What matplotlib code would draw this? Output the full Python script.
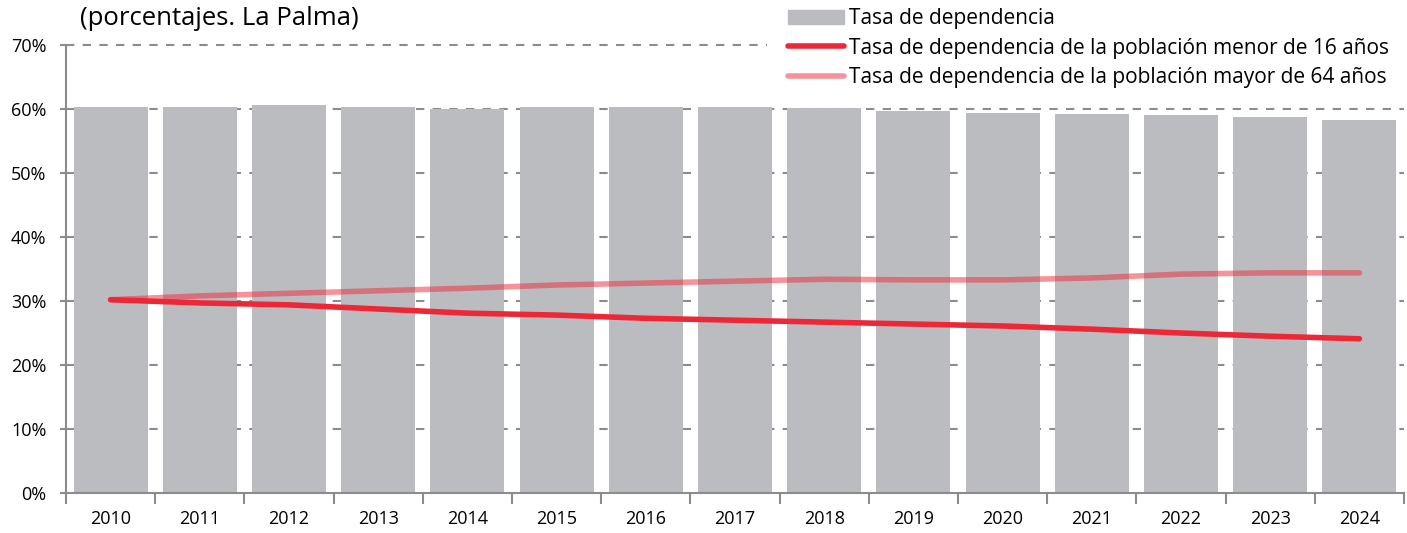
import numpy as np
import matplotlib.pyplot as plt
from matplotlib.patches import Patch
from matplotlib.lines import Line2D

# datos (porcentajes, La Palma)
anios = ["2010", "2011", "2012", "2013", "2014", "2015", "2016", "2017",
         "2018", "2019", "2020", "2021", "2022", "2023", "2024"]
tasa_total = [60.3, 60.3, 60.6, 60.3, 60.0, 60.3, 60.3, 60.3,
              60.2, 59.7, 59.4, 59.2, 59.1, 58.75, 58.3]
tasa_menor16 = [30.2, 29.7, 29.4, 28.75, 28.1, 27.8, 27.3, 27.0,
                26.7, 26.4, 26.1, 25.6, 25.0, 24.5, 24.1]
tasa_mayor64 = [30.2, 30.8, 31.2, 31.6, 32.0, 32.5, 32.8, 33.1,
                33.4, 33.3, 33.3, 33.6, 34.2, 34.4, 34.4]
etiquetas_y = ["0%", "10%", "20%", "30%", "40%", "50%", "60%", "70%"]

gris = "#BBBCC0"
rojo = "#EE2737"
eje = "#8C8C8C"

plt.rcParams['font.family'] = ['Open Sans', 'DejaVu Sans']

fig = plt.figure(figsize=(14.07, 5.33), dpi=100)
ax = fig.add_axes([0.0469, 0.075, 0.951, 0.8406])

x = np.arange(len(anios))
ax.bar(x, tasa_total, width=0.83, color=gris, zorder=2)
ax.plot(x, tasa_mayor64, color=rojo, alpha=0.5, lw=4, solid_capstyle='round', zorder=3)
ax.plot(x, tasa_menor16, color=rojo, lw=4, solid_capstyle='round', zorder=4)

ax.set_xlim(-0.5, len(anios) - 0.5)
ax.set_ylim(0, 70)
ax.set_yticks(np.arange(0, 71, 10))
ax.set_yticklabels(etiquetas_y, fontsize=13)
ax.set_xticks(x)
ax.set_xticklabels(anios, fontsize=13)
ax.set_xticks(np.arange(-0.5, len(anios), 1), minor=True)
ax.tick_params(axis='x', which='major', length=0, pad=12)
ax.tick_params(axis='x', which='minor', length=8, color=eje, width=1.5, direction='out')
ax.tick_params(axis='y', length=4, color=eje, width=1.5, pad=10)

# lineas de rejilla; la de 70% queda tapada por la leyenda
for y in np.arange(10, 61, 10):
    ax.axhline(y, color=eje, lw=1.5, ls=(0, (4, 4)), zorder=1)
ax.axhline(70, xmax=0.524, color=eje, lw=1.5, ls=(0, (4, 4)), zorder=1, clip_on=False)

for s in ['top', 'right']:
    ax.spines[s].set_visible(False)
ax.spines['left'].set_color(eje)
ax.spines['bottom'].set_color(eje)
ax.spines['left'].set_linewidth(1.5)
ax.spines['bottom'].set_linewidth(1.5)

fig.text(0.057, 0.965, "(porcentajes. La Palma)", fontsize=18.5, va='center', ha='left')

handles = [Patch(color=gris),
           Line2D([], [], color=rojo, lw=4, solid_capstyle='round'),
           Line2D([], [], color=rojo, alpha=0.5, lw=4, solid_capstyle='round')]
labels = ["Tasa de dependencia",
          "Tasa de dependencia de la población menor de 16 años",
          "Tasa de dependencia de la población mayor de 64 años"]
leg = fig.legend(handles, labels, loc='upper left', bbox_to_anchor=(0.550, 1.012),
                 fontsize=15, frameon=False,
                 handlelength=2.65, handletextpad=0.25, labelspacing=0.4,
                 borderpad=0.2)

fig.savefig("out.png", dpi=100)
